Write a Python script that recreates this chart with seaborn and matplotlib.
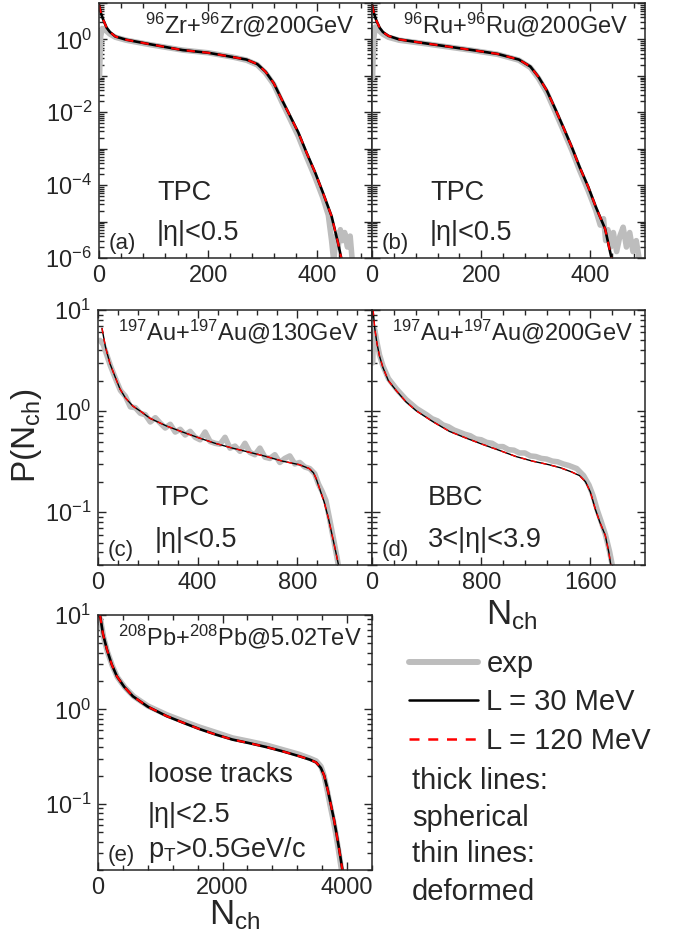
import numpy as np
import seaborn as sns
import matplotlib.pyplot as plt
from matplotlib.lines import Line2D
from matplotlib.ticker import MultipleLocator, LogLocator, FuncFormatter, NullFormatter

# ---------------- data ----------------
# (a) 96Zr+96Zr @ 200 GeV, TPC |eta|<0.5
zr_n_model = [0, 4, 8, 14, 20, 30, 50, 93, 153, 200, 244, 270, 290, 305, 320, 335, 350, 365, 380, 396, 410, 426, 438, 445]
zr_p_model = [8.9, 5.0, 3.4, 2.1, 1.6, 1.2, 0.98, 0.74, 0.51, 0.43, 0.33, 0.28, 0.21, 0.13, 0.063, 0.022,
              7.9e-3, 2.8e-3, 7.9e-4, 2.2e-4, 6.3e-5, 1.4e-5, 2.5e-6, 8e-7]
zr_n_exp = [1, 3, 6, 10, 20, 30, 50, 93, 153, 200, 244, 270, 290, 305, 320, 335, 350, 365, 380, 396, 410,
            420, 426, 430, 434, 438, 442, 446, 450, 455, 460, 464]
zr_p_exp = [0.1, 1.2, 2.0, 1.9, 1.4, 1.15, 0.95, 0.72, 0.51, 0.43, 0.33, 0.27, 0.2, 0.12, 0.058, 0.019,
            6.5e-3, 2.2e-3, 6e-4, 1.6e-4, 4.5e-5, 1.5e-5, 3e-6, 8e-7, 4e-6, 2e-6, 6e-6, 3e-6, 5e-6, 2e-6, 4e-6, 8e-7]

# (b) 96Ru+96Ru @ 200 GeV, TPC |eta|<0.5
ru_n_model = [0, 4, 8, 14, 20, 30, 50, 93, 184, 230, 269, 290, 305, 320, 336, 350, 366, 380, 396, 410, 427, 436, 442]
ru_p_model = [8.9, 5.0, 3.3, 2.1, 1.6, 1.25, 1.0, 0.8, 0.51, 0.4, 0.28, 0.18, 0.093, 0.04, 0.012, 4e-3,
              1.1e-3, 3.2e-4, 9e-5, 2.5e-5, 6.3e-6, 1.5e-6, 6e-7]
ru_n_exp = [1, 3, 6, 10, 20, 30, 50, 93, 184, 230, 269, 290, 305, 320, 336, 350, 366, 380, 396, 410,
            418, 424, 428, 432, 437, 442, 448, 454, 460, 466, 472, 478, 484, 490]
ru_p_exp = [0.09, 1.0, 2.2, 1.9, 1.4, 1.15, 0.95, 0.78, 0.5, 0.39, 0.27, 0.17, 0.085, 0.035, 0.01, 3.3e-3,
            9e-4, 2.6e-4, 7e-5, 2e-5, 8e-6, 1.2e-5, 3e-6, 6e-6, 2e-6, 5e-6, 1.5e-6, 4e-6, 7e-6, 2e-6, 5e-6, 1.5e-6, 3e-6, 8e-7]

# (c) 197Au+197Au @ 130 GeV, TPC |eta|<0.5
au130_n_model = [16, 30, 48, 70, 88, 110, 140, 175, 208, 276, 340, 408, 470, 540, 610, 676, 740, 808, 848,
                 865, 876, 890, 908, 925, 940, 955, 968]
au130_p_model = [6.6, 4.3, 2.95, 2.14, 1.66, 1.35, 1.12, 0.98, 0.85, 0.71, 0.62, 0.54, 0.48, 0.43, 0.39, 0.355,
                 0.32, 0.295, 0.27, 0.245, 0.214, 0.17, 0.126, 0.087, 0.059, 0.04, 0.028]
au130_n_exp = [8, 20, 35, 50, 70, 90, 110, 130, 150, 170, 190, 210, 230, 250, 270, 290, 310, 330, 350, 370,
               390, 410, 430, 450, 470, 490, 510, 530, 550, 570, 590, 610, 630, 650, 670, 690, 710, 730, 750,
               770, 790, 810, 830, 850, 870, 885, 900, 915, 930, 945, 960, 970]
au130_p_exp = [5.0, 4.6, 3.6, 2.8, 2.1, 1.6, 1.4, 1.1, 1.08, 0.95, 0.92, 0.78, 0.86, 0.76, 0.68, 0.74, 0.62,
               0.66, 0.58, 0.63, 0.55, 0.52, 0.62, 0.5, 0.48, 0.47, 0.55, 0.43, 0.45, 0.4, 0.48, 0.39, 0.37,
               0.43, 0.35, 0.34, 0.37, 0.31, 0.34, 0.36, 0.3, 0.31, 0.28, 0.27, 0.24, 0.19, 0.16, 0.13,
               0.085, 0.055, 0.035, 0.025]

# (d) 197Au+197Au @ 200 GeV, BBC 3<|eta|<3.9
au200_n_model = [8, 20, 36, 55, 80, 120, 180, 250, 327, 450, 567, 690, 807, 930, 1055, 1175, 1295, 1380,
                 1462, 1520, 1564, 1600, 1636, 1670, 1709, 1735, 1753]
au200_p_model = [10, 6.6, 4.7, 3.5, 2.7, 2.0, 1.58, 1.23, 1.0, 0.78, 0.63, 0.54, 0.47, 0.41, 0.355, 0.32,
                 0.295, 0.275, 0.25, 0.23, 0.2, 0.158, 0.107, 0.079, 0.059, 0.04, 0.028]
au200_n_exp = [5, 12, 20, 36, 55, 80, 120, 180, 250, 327, 400, 440, 480, 520, 560, 600, 640, 680, 720, 760,
               800, 840, 880, 920, 960, 1000, 1040, 1080, 1120, 1160, 1200, 1240, 1280, 1320, 1360, 1400,
               1440, 1500, 1550, 1590, 1620, 1650, 1680, 1710, 1740, 1760]
au200_p_exp = [3.0, 6.0, 6.4, 4.8, 3.6, 2.8, 2.1, 1.65, 1.3, 1.06, 0.92, 0.84, 0.8, 0.73, 0.7, 0.65, 0.62,
               0.59, 0.57, 0.53, 0.52, 0.49, 0.48, 0.445, 0.445, 0.415, 0.41, 0.385, 0.385, 0.36, 0.355, 0.34,
               0.335, 0.32, 0.315, 0.3, 0.29, 0.27, 0.23, 0.185, 0.145, 0.105, 0.08, 0.06, 0.041, 0.03]

# (e) 208Pb+208Pb @ 5.02 TeV, loose tracks |eta|<2.5 pT>0.5 GeV/c
pb_n_model = [32, 80, 144, 220, 304, 420, 560, 800, 1104, 1400, 1632, 1900, 2160, 2430, 2704, 2970, 3232,
              3400, 3504, 3580, 3632, 3690, 3744, 3790, 3824, 3870, 3920, 3950]
pb_p_model = [10, 6.3, 4.3, 3.0, 2.24, 1.74, 1.38, 1.07, 0.85, 0.71, 0.62, 0.54, 0.48, 0.44, 0.4, 0.36, 0.32,
              0.295, 0.275, 0.24, 0.2, 0.14, 0.095, 0.068, 0.051, 0.034, 0.021, 0.016]
pb_n_exp = [40, 90, 150, 230, 310, 430, 570, 800, 1104, 1400, 1632, 1900, 2160, 2430, 2704, 2970, 3232,
            3400, 3504, 3580, 3630, 3680, 3730, 3780, 3815, 3860, 3905, 3935]
pb_p_exp = [9.0, 5.8, 4.1, 2.9, 2.2, 1.72, 1.38, 1.09, 0.88, 0.74, 0.65, 0.57, 0.5, 0.46, 0.42, 0.375, 0.335,
            0.305, 0.285, 0.25, 0.2, 0.14, 0.095, 0.066, 0.05, 0.033, 0.021, 0.016]

panels = [
    dict(tag="(a)", title="$^{96}$Zr+$^{96}$Zr@200GeV", notes=["TPC", "|η|<0.5"],
         n_model=zr_n_model, p_model=zr_p_model, n_exp=zr_n_exp, p_exp=zr_p_exp,
         xlim=(0, 500), xmaj=200, xmin=40, ylim=(1e-6, 10), ylab=[0, -2, -4, -6], thick=True),
    dict(tag="(b)", title="$^{96}$Ru+$^{96}$Ru@200GeV", notes=["TPC", "|η|<0.5"],
         n_model=ru_n_model, p_model=ru_p_model, n_exp=ru_n_exp, p_exp=ru_p_exp,
         xlim=(0, 500), xmaj=200, xmin=40, ylim=(1e-6, 10), ylab=None, thick=True),
    dict(tag="(c)", title="$^{197}$Au+$^{197}$Au@130GeV", notes=["TPC", "|η|<0.5"],
         n_model=au130_n_model, p_model=au130_p_model, n_exp=au130_n_exp, p_exp=au130_p_exp,
         xlim=(0, 1100), xmaj=400, xmin=80, ylim=(0.03, 10), ylab=[1, 0, -1], thick=False),
    dict(tag="(d)", title="$^{197}$Au+$^{197}$Au@200GeV", notes=["BBC", "3<|η|<3.9"],
         n_model=au200_n_model, p_model=au200_p_model, n_exp=au200_n_exp, p_exp=au200_p_exp,
         xlim=(0, 2000), xmaj=800, xmin=160, ylim=(0.03, 10), ylab=None, thick=False),
    dict(tag="(e)", title="$^{208}$Pb+$^{208}$Pb@5.02TeV",
         notes=["loose tracks", "|η|<2.5", "p$_{\\rm T}$>0.5GeV/c"],
         n_model=pb_n_model, p_model=pb_p_model, n_exp=pb_n_exp, p_exp=pb_p_exp,
         xlim=(0, 4400), xmaj=2000, xmin=400, ylim=(0.02, 10), ylab=[1, 0, -1], thick=True),
]

# ---------------- style ----------------
sns.set_style("ticks")
plt.rcParams['font.family'] = ['Liberation Sans', 'DejaVu Sans']
plt.rcParams['mathtext.fontset'] = 'custom'
plt.rcParams['mathtext.rm'] = 'Liberation Sans'
plt.rcParams['mathtext.it'] = 'Liberation Sans:italic'
plt.rcParams['mathtext.bf'] = 'Liberation Sans:bold'
plt.rcParams['axes.linewidth'] = 1.1

W, H = 685, 947
fig = plt.figure(figsize=(W / 100, H / 100), dpi=100)

# axes boxes in pixels: left, top, right, bottom
boxes = [(99, 3, 372, 258), (372, 3, 645, 258),
         (98, 310, 372, 565), (372, 310, 645, 565),
         (98, 615, 372, 870)]
# where each title starts (pixel x)
title_x = [145, 403, 118, 392, 118]

GRAY = "#bdbdbd"
for p, (l, t, r, b), tx0 in zip(panels, boxes, title_x):
    ax = fig.add_axes([l / W, 1 - b / H, (r - l) / W, (b - t) / H])
    lw_m = 1.9 if p["thick"] else 1.0
    lw_r = 1.5 if p["thick"] else 1.0
    sns.lineplot(x=p["n_exp"], y=p["p_exp"], ax=ax, color=GRAY, lw=4.0, solid_capstyle="round")
    sns.lineplot(x=p["n_model"], y=p["p_model"], ax=ax, color="black", lw=lw_m)
    sns.lineplot(x=p["n_model"], y=p["p_model"], ax=ax, color="red", lw=lw_r)
    ax.lines[-1].set_dashes((4, 3.5))
    ax.set_yscale("log")
    ax.set_xlim(*p["xlim"])
    ax.set_ylim(*p["ylim"])
    ax.xaxis.set_major_locator(MultipleLocator(p["xmaj"]))
    ax.xaxis.set_minor_locator(MultipleLocator(p["xmin"]))
    ax.yaxis.set_major_locator(LogLocator(base=10, numticks=20))
    ax.yaxis.set_minor_locator(LogLocator(base=10, subs=np.arange(2, 10), numticks=20))
    ax.yaxis.set_minor_formatter(NullFormatter())
    if p["ylab"] is None:
        ax.yaxis.set_major_formatter(NullFormatter())
    else:
        shown = p["ylab"]
        ax.yaxis.set_major_formatter(FuncFormatter(
            lambda v, pos, shown=shown: "10$^{%d}$" % round(np.log10(v)) if round(np.log10(v)) in shown else ""))
    xmax = p["xlim"][1]
    ax.xaxis.set_major_formatter(FuncFormatter(lambda v, pos, xmax=xmax: "%d" % v if v < xmax - 1 else ""))
    ax.tick_params(which="both", direction="in", top=True, right=True, labelsize=17, width=1.0, pad=5)
    ax.tick_params(which="major", length=6)
    ax.tick_params(which="minor", length=3.5)
    ax.set_xlabel("")
    ax.set_ylabel("")

    ax.text((tx0 - l) / (r - l), (b - t - 30) / (b - t), p["title"], transform=ax.transAxes,
            fontsize=17, va="baseline", ha="left")
    ax.text(10 / (r - l), 9 / (b - t), p["tag"], transform=ax.transAxes, fontsize=16, va="baseline", ha="left")

# notes inside panels (pixel positions of the text baselines)
note_pos = {
    0: [(157, 200), (157, 240)],
    1: [(430, 200), (430, 240)],
    2: [(155, 505), (155, 547)],
    3: [(428, 505), (428, 547)],
    4: [(148, 782), (148, 822), (148, 857)],
}
for i, p in enumerate(panels):
    for txt, (xp, yp) in zip(p["notes"], note_pos[i]):
        fig.text(xp / W, 1 - yp / H, txt, fontsize=19.5, va="baseline", ha="left")

# axis labels
fig.text(26 / W, 1 - 436 / H, "P(N$_{\\rm ch}$)", fontsize=24, rotation=90, va="center", ha="center")
fig.text(512 / W, 1 - 615 / H, "N$_{\\rm ch}$", fontsize=25, va="center", ha="center")
fig.text(235 / W, 1 - 915 / H, "N$_{\\rm ch}$", fontsize=25, va="center", ha="center")

# legend
handles = [Line2D([], [], color=GRAY, lw=4.3, solid_capstyle="round"),
           Line2D([], [], color="black", lw=1.8),
           Line2D([], [], color="red", lw=1.8, dashes=(4, 3.5))]
labels = ["exp", "L = 30 MeV", "L = 120 MeV"]
fig.legend(handles, labels, loc="upper left", bbox_to_anchor=(409 / W, 1 - 650 / H), frameon=False,
           fontsize=21, handlelength=2.35, handletextpad=0.3, labelspacing=0.36, borderpad=0, borderaxespad=0)

for txt, yp in zip(["thick lines:", "spherical", "thin lines:", "deformed"], [789, 826, 862, 900]):
    fig.text(412 / W, 1 - yp / H, txt, fontsize=21, va="baseline", ha="left")

fig.savefig("out.png", dpi=100)
